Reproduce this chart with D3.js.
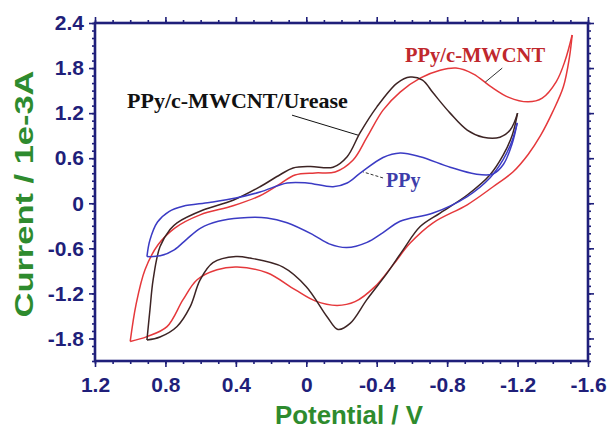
<!DOCTYPE html>
<html>
<head>
<meta charset="utf-8">
<script src="https://cdn.jsdelivr.net/npm/d3@7"></script>
<style>
  html, body { margin: 0; padding: 0; background: #fff; }
  svg { display: block; }
</style>
</head>
<body>
<svg id="chart" width="609" height="428"></svg>
<script>
// cyclic voltammograms, potential (V) vs current (1e-3 A)
const xTicks = [1.2, 0.8, 0.4, 0, -0.4, -0.8, -1.2, -1.6];
const yTicks = [-1.8, -1.2, -0.6, 0, 0.6, 1.2, 1.8, 2.4];

// PPy: forward scan (upper branch) and reverse scan (lower branch)
const ppyFwd = [[0.905, -0.71], [0.888, -0.49], [0.845, -0.25], [0.78, -0.11], [0.70, -0.04],
  [0.55, 0.01], [0.40, 0.07], [0.263, 0.15], [0.109, 0.27], [-0.005, 0.27], [-0.152, 0.22],
  [-0.232, 0.27], [-0.306, 0.40], [-0.436, 0.61], [-0.533, 0.67], [-0.647, 0.62],
  [-0.817, 0.48], [-0.96, 0.39], [-1.06, 0.39], [-1.12, 0.52], [-1.17, 0.80], [-1.198, 1.07]];
const ppyRev = [[-1.198, 1.07], [-1.17, 0.84], [-1.118, 0.58], [-1.044, 0.34], [-0.914, 0.09],
  [-0.72, -0.13], [-0.533, -0.24], [-0.436, -0.39], [-0.345, -0.52], [-0.23, -0.59],
  [-0.13, -0.54], [-0.039, -0.42], [0.109, -0.26], [0.223, -0.195], [0.376, -0.195],
  [0.50, -0.24], [0.60, -0.33], [0.68, -0.48], [0.75, -0.62], [0.83, -0.70], [0.905, -0.71]];

// PPy/c-MWCNT
const mwcntFwd = [[1.0, -1.84], [0.967, -1.35], [0.916, -0.885], [0.842, -0.553], [0.745, -0.327],
  [0.603, -0.154], [0.416, -0.034], [0.263, 0.10], [0.149, 0.258], [0.064, 0.377], [-0.05, 0.404],
  [-0.164, 0.417], [-0.266, 0.576], [-0.345, 0.88], [-0.436, 1.24], [-0.533, 1.48],
  [-0.647, 1.665], [-0.76, 1.77], [-0.85, 1.80], [-0.95, 1.72], [-1.044, 1.56], [-1.15, 1.41],
  [-1.26, 1.35], [-1.34, 1.40], [-1.42, 1.62], [-1.47, 1.90], [-1.51, 2.24]];
const mwcntRev = [[-1.51, 2.24], [-1.495, 1.95], [-1.46, 1.55], [-1.40, 1.22], [-1.33, 0.90],
  [-1.26, 0.65], [-1.175, 0.42], [-1.061, 0.22], [-0.914, -0.02], [-0.72, -0.26], [-0.59, -0.53],
  [-0.493, -0.82], [-0.39, -1.11], [-0.277, -1.31], [-0.175, -1.36], [-0.05, -1.30],
  [0.064, -1.15], [0.223, -0.925], [0.393, -0.85], [0.507, -0.885], [0.62, -1.018],
  [0.70, -1.284], [0.791, -1.643], [0.905, -1.776], [1.0, -1.84]];

// PPy/c-MWCNT/Urease
const ureaseFwd = [[0.905, -1.82], [0.888, -1.42], [0.87, -1.02], [0.831, -0.58], [0.774, -0.35],
  [0.734, -0.26], [0.586, -0.09], [0.416, 0.04], [0.263, 0.22], [0.149, 0.38], [0.075, 0.47],
  [-0.022, 0.49], [-0.152, 0.48], [-0.232, 0.62], [-0.306, 0.94], [-0.40, 1.28], [-0.516, 1.60],
  [-0.59, 1.68], [-0.66, 1.64], [-0.72, 1.47], [-0.817, 1.20], [-0.914, 0.975], [-1.005, 0.88],
  [-1.10, 0.88], [-1.158, 0.975], [-1.20, 1.20]];
const ureaseRev = [[-1.20, 1.20], [-1.17, 0.91], [-1.118, 0.64], [-1.044, 0.38], [-0.914, 0.11],
  [-0.76, -0.13], [-0.647, -0.31], [-0.55, -0.62], [-0.459, -0.93], [-0.345, -1.28],
  [-0.249, -1.60], [-0.18, -1.68], [-0.118, -1.51], [0.0, -1.11], [0.132, -0.85], [0.32, -0.73],
  [0.40, -0.71], [0.53, -0.79], [0.603, -1.02], [0.66, -1.38], [0.734, -1.64], [0.831, -1.78],
  [0.905, -1.82]];

const navy = "#1f1f7a";
const green = "#2e8b2e";

const svg = d3.select("#chart");
const plot = { left: 95, right: 588, top: 23, bottom: 361 };

const x = d3.scaleLinear().domain([1.2, -1.6]).range([plot.left, plot.right]);
const y = d3.scaleLinear().domain([-2.1, 2.4]).range([plot.bottom, plot.top]);

const fmt = d => Math.abs(d) < 1e-9 ? "0" : d.toFixed(1);
const minorX = d3.range(-16, 13).map(d => d / 10);
const minorY = d3.range(-21, 25).map(d => d / 10);

// every axis gets minor ticks + major ticks, labels only on bottom/left
function addAxis(make, scale, pos, major, minor, labelled) {
    const tr = (make === d3.axisBottom || make === d3.axisTop) ?
        `translate(0,${pos})` : `translate(${pos},0)`;
    const gMinor = svg.append("g").attr("transform", tr)
        .call(make(scale).tickValues(minor).tickSize(3).tickFormat(""));
    const gMajor = svg.append("g").attr("transform", tr)
        .call(make(scale).tickValues(major).tickSize(6)
            .tickPadding(make === d3.axisBottom ? 10 : 5)
            .tickFormat(labelled ? fmt : ""));
    [gMinor, gMajor].forEach(g => {
        g.select(".domain").remove();
        g.selectAll("line").attr("stroke", navy).attr("stroke-width", 1.6);
    });
    gMajor.selectAll("text")
        .attr("fill", navy)
        .style("font", "bold 21px 'Liberation Sans', Arial, sans-serif");
}

addAxis(d3.axisBottom, x, plot.bottom, xTicks, minorX, true);
addAxis(d3.axisTop, x, plot.top, xTicks, minorX, false);
addAxis(d3.axisLeft, y, plot.left, yTicks, minorY, true);
addAxis(d3.axisRight, y, plot.right, yTicks, minorY, false);

// frame
svg.append("rect")
    .attr("x", plot.left).attr("y", plot.top)
    .attr("width", plot.right - plot.left).attr("height", plot.bottom - plot.top)
    .attr("fill", "none").attr("stroke", navy).attr("stroke-width", 2.6);

// curves
const line = d3.line()
    .x(d => x(d[0]))
    .y(d => y(d[1]))
    .curve(d3.curveCatmullRom.alpha(0.5));

const series = [
    { pts: mwcntFwd, color: "#e5383b" },
    { pts: mwcntRev, color: "#e5383b" },
    { pts: ureaseFwd, color: "#3d2424" },
    { pts: ureaseRev, color: "#3d2424" },
    { pts: ppyFwd, color: "#3b3bc4" },
    { pts: ppyRev, color: "#3b3bc4" }
];

svg.append("g").selectAll("path")
    .data(series)
    .enter()
    .append("path")
    .attr("d", s => line(s.pts))
    .attr("fill", "none")
    .attr("stroke", s => s.color)
    .attr("stroke-width", 1.5)
    .attr("stroke-linejoin", "round");

// labels with leader lines (data units)
const notes = [
    { text: "PPy/c-MWCNT/Urease", at: [1.018, 1.267], size: 22, color: "#111",
      from: [0.081, 1.173], to: [-0.294, 0.907], dash: null, lineColor: "#111" },
    { text: "PPy/c-MWCNT", at: [-0.561, 1.878], size: 20.5, color: "#c0282d",
      from: [-1.113, 1.80], to: [-1.016, 1.612], dash: null, lineColor: "#333" },
    { text: "PPy", at: [-0.453, 0.218], size: 20, color: "#3d3daa",
      from: [-0.436, 0.337], to: [-0.323, 0.417], dash: "3,2", lineColor: "#333" }
];

const G = svg.append("g");
notes.forEach(n => {
    G.append("line")
        .attr("x1", x(n.from[0])).attr("y1", y(n.from[1]))
        .attr("x2", x(n.to[0])).attr("y2", y(n.to[1]))
        .attr("stroke", n.lineColor)
        .attr("stroke-width", 1)
        .attr("stroke-dasharray", n.dash);
    G.append("text")
        .attr("x", x(n.at[0])).attr("y", y(n.at[1]))
        .attr("fill", n.color)
        .style("font", `bold ${n.size}px 'Liberation Serif', 'Times New Roman', serif`)
        .text(n.text);
});

// axis titles
svg.append("text")
    .attr("transform", `translate(33,${(plot.top + plot.bottom) / 2 + 2}) rotate(-90)`)
    .attr("text-anchor", "middle")
    .attr("fill", green)
    .attr("textLength", 247)
    .attr("lengthAdjust", "spacingAndGlyphs")
    .style("font", "bold 25px 'Liberation Sans', Arial, sans-serif")
    .text("Current / 1e-3A");

svg.append("text")
    .attr("x", 349).attr("y", 424)
    .attr("text-anchor", "middle")
    .attr("fill", green)
    .attr("textLength", 148)
    .attr("lengthAdjust", "spacingAndGlyphs")
    .style("font", "bold 25px 'Liberation Sans', Arial, sans-serif")
    .text("Potential / V");
</script>
</body>
</html>
